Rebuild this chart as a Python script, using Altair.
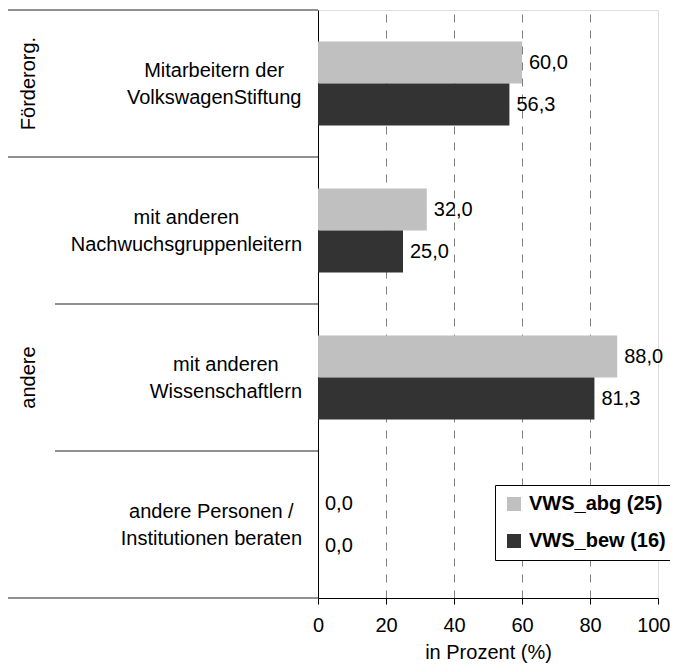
import altair as alt
import pandas as pd

categories = [
    "Mitarbeitern der\nVolkswagenStiftung",
    "mit anderen\nNachwuchsgruppenleitern",
    "mit anderen\nWissenschaftlern",
    "andere Personen /\nInstitutionen beraten",
]
series = ["VWS_abg (25)", "VWS_bew (16)"]
vws_abg = [60.0, 32.0, 88.0, 0.0]
vws_bew = [56.3, 25.0, 81.3, 0.0]
group_names = ["Förderorg.", "andere"]
group_anchor = [categories[0], categories[2]]
x_ticks = [0, 20, 40, 60, 80, 100]

FONT = "Liberation Sans"
FS = 20

# Arial / Liberation Sans advance widths (per 1000 em) to centre each label block
CHAR_W = {
    " ": 278, "/": 278, "M": 833, "V": 667, "N": 722, "W": 944, "S": 667, "P": 667, "I": 278,
    "a": 556, "b": 556, "c": 500, "d": 556, "e": 556, "f": 278, "g": 556, "h": 556, "i": 222,
    "k": 500, "l": 222, "n": 556, "o": 556, "p": 556, "r": 333, "s": 500, "t": 278, "u": 556,
    "w": 722,
}


def text_width(s):
    return sum(CHAR_W.get(ch, 556) for ch in s) * FS / 1000.0


rows = []
for c, a, b in zip(categories, vws_abg, vws_bew):
    rows.append({"cat": c, "series": series[0], "value": a})
    rows.append({"cat": c, "series": series[1], "value": b})
df = pd.DataFrame(rows)
df["label"] = df["value"].map(lambda v: f"{v:.1f}".replace(".", ","))

grp_df = pd.DataFrame({"cat": group_anchor, "name": group_names})
full_sep = pd.DataFrame({"cat": [categories[0], categories[1]]})
part_sep = pd.DataFrame({"cat": [categories[2], categories[3]]})
bottom_sep = pd.DataFrame({"cat": [categories[3]]})

y_scale = alt.Scale(domain=categories, paddingInner=0, paddingOuter=0)
y_axis = alt.Axis(labels=False, ticks=False, title=None, domainColor="black",
                  domainWidth=1, grid=False)


def Y(**kw):
    return alt.Y("cat:N", sort=categories, scale=y_scale, axis=y_axis, **kw)


yoff = alt.YOffset("series:N", sort=series,
                   scale=alt.Scale(domain=series, paddingInner=0, paddingOuter=0.75))

x_enc = alt.X(
    "value:Q",
    scale=alt.Scale(domain=[0, 100], nice=False),
    axis=alt.Axis(
        values=x_ticks,
        title="in Prozent (%)",
        titleFontSize=FS,
        titleFontWeight="normal",
        titleColor="black",
        titleFont=FONT,
        titlePadding=7,
        labelFontSize=FS,
        labelFont=FONT,
        labelColor="black",
        labelPadding=11,
        labelFlush=False,
        labelAlign={"condition": {"test": "datum.value == 100", "value": "right"}, "value": "center"},
        labelOffset={"condition": {"test": "datum.value == 100", "value": 12}, "value": 0},
        tickSize=6,
        tickColor="black",
        domainColor="black",
        grid=True,
        gridColor="#808080",
        gridDash=[8, 8],
        gridOpacity={"condition": {"test": "datum.value == 0 || datum.value == 100", "value": 0}, "value": 1},
    ),
)

bars = alt.Chart(df).mark_bar().encode(
    x=x_enc,
    y=Y(),
    yOffset=yoff,
    color=alt.Color(
        "series:N",
        scale=alt.Scale(domain=series, range=["#C0C0C0", "#333333"]),
        legend=alt.Legend(
            title=None,
            orient="none",
            legendX=177,
            legendY=475,
            direction="vertical",
            symbolType="square",
            symbolSize=196,
            symbolStrokeWidth=0,
            symbolOpacity=1,
            labelFontSize=FS,
            labelFontWeight="bold",
            labelFont=FONT,
            labelColor="black",
            labelOffset=5,
            strokeColor="black",
            fillColor="white",
            padding=9,
            rowPadding=17,
        ),
    ),
)

values_text = alt.Chart(df).mark_text(
    align="left", baseline="middle", dx=7, fontSize=FS, font=FONT, color="black"
).encode(x=alt.X("value:Q"), y=Y(), yOffset=yoff, text="label:N")

# category label blocks: lines centred on each other, block right edge 16px left of the axis
cat_layers = []
for c in categories:
    block_w = max(text_width(line) for line in c.split("\n"))
    cx = -16 - block_w / 2.0
    cat_layers.append(
        alt.Chart(pd.DataFrame({"cat": [c]})).mark_text(
            align="center", baseline="middle", fontSize=FS, font=FONT, color="black",
            lineBreak="\n", lineHeight=27, dy=-13,
        ).encode(x=alt.value(cx), y=Y(), text="cat:N")
    )

grp_text = alt.Chart(grp_df).mark_text(
    align="center", baseline="middle", fontSize=FS, font=FONT, color="black", angle=270
).encode(x=alt.value(-289), y=Y(), text="name:N")

rule_full = alt.Chart(full_sep).mark_rule(color="#222222", strokeWidth=1).encode(
    x=alt.value(-310), x2=alt.value(0), y=Y(bandPosition=0)
)
rule_part = alt.Chart(part_sep).mark_rule(color="#222222", strokeWidth=1).encode(
    x=alt.value(-263), x2=alt.value(0), y=Y(bandPosition=0)
)
rule_bottom = alt.Chart(bottom_sep).mark_rule(color="#222222", strokeWidth=1).encode(
    x=alt.value(-310), x2=alt.value(0), y=Y(bandPosition=1)
)

chart = (
    alt.layer(rule_full, rule_part, rule_bottom, bars, values_text, *cat_layers, grp_text)
    .properties(
        width=340,
        height=588,
        autosize=alt.AutoSizeParams(type="none"),
        padding={"left": 310, "top": 2, "right": 12, "bottom": 65},
    )
    .configure_view(stroke="#808080", strokeWidth=1)
    .configure(font=FONT)
)

chart.save("out.html", embed_options={"renderer": "svg", "actions": False})
